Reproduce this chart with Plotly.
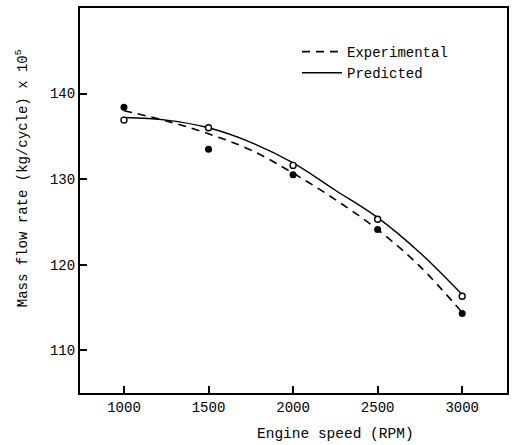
import plotly.graph_objects as go

# Measured points
speed = [1000, 1500, 2000, 2500, 3000]
exp_pts = [138.4, 133.5, 130.5, 124.1, 114.3]
pred_pts = [136.9, 136.0, 131.6, 125.3, 116.3]

# Smooth curve readings from the figure
curve_x = [1000, 1250, 1500, 1750, 2000, 2250, 2500, 2750, 3000]
exp_curve = [138.0, 136.8, 135.3, 133.4, 130.7, 127.6, 124.1, 119.8, 114.4]
pred_curve = [137.2, 136.9, 136.0, 134.3, 131.9, 128.7, 125.5, 121.4, 116.5]

x_ticks = [1000, 1500, 2000, 2500, 3000]
y_ticks = [110, 120, 130, 140]

FONT = "Liberation Mono"
L, R, T, B = 80, 6, 8, 52
W, H = 515, 445
PW, PH = W - L - R, H - T - B

def px_x(x):
    return (x - L) / PW

def px_y(y):
    return (H - B - y) / PH

fig = go.Figure()
fig.add_trace(go.Scatter(x=curve_x, y=exp_curve, mode="lines", line_shape="spline",
                         line=dict(color="black", width=1.6, dash="8px,6px"),
                         name="Experimental", showlegend=True))
fig.add_trace(go.Scatter(x=curve_x, y=pred_curve, mode="lines", line_shape="spline",
                         line=dict(color="black", width=1.4),
                         name="Predicted", showlegend=True))
fig.add_trace(go.Scatter(x=speed, y=exp_pts, mode="markers",
                         marker=dict(symbol="circle", size=7, color="black"),
                         showlegend=False))
fig.add_trace(go.Scatter(x=speed, y=pred_pts, mode="markers",
                         marker=dict(symbol="circle", size=6, color="white",
                                     line=dict(color="black", width=1.4)),
                         showlegend=False))

axis_common = dict(ticks="inside", ticklen=7, tickwidth=1.5, tickcolor="black",
                   showline=True, linecolor="black", linewidth=2, mirror=True,
                   showgrid=False, zeroline=False,
                   tickfont=dict(family=FONT, size=14))

fig.update_layout(
    width=W, height=H,
    margin=dict(l=L, r=R, t=T, b=B),
    paper_bgcolor="white", plot_bgcolor="white",
    font=dict(family=FONT, size=14, color="black"),
    showlegend=True,
    legend=dict(x=px_x(298), y=px_y(36), xanchor="left", yanchor="top",
                bgcolor="rgba(0,0,0,0)", font=dict(family=FONT, size=14),
                tracegroupgap=0, itemwidth=40),
    xaxis=dict(range=[740, 3265], tickvals=x_ticks, **axis_common),
    yaxis=dict(range=[105, 150], tickvals=y_ticks, **axis_common),
)
fig.add_annotation(text="Engine speed (RPM)", x=px_x(337), y=px_y(434),
                   xref="paper", yref="paper", showarrow=False,
                   xanchor="center", yanchor="middle",
                   font=dict(family=FONT, size=14.5))
fig.add_annotation(text="Mass flow rate (kg/cycle) x 10<sup>5</sup>",
                   x=px_x(22), y=px_y(178), xref="paper", yref="paper",
                   textangle=-90, showarrow=False, xanchor="center", yanchor="middle",
                   font=dict(family=FONT, size=14))

fig.write_html("out.html", config={"displayModeBar": False},
               post_script="document.body.style.margin='0';")
